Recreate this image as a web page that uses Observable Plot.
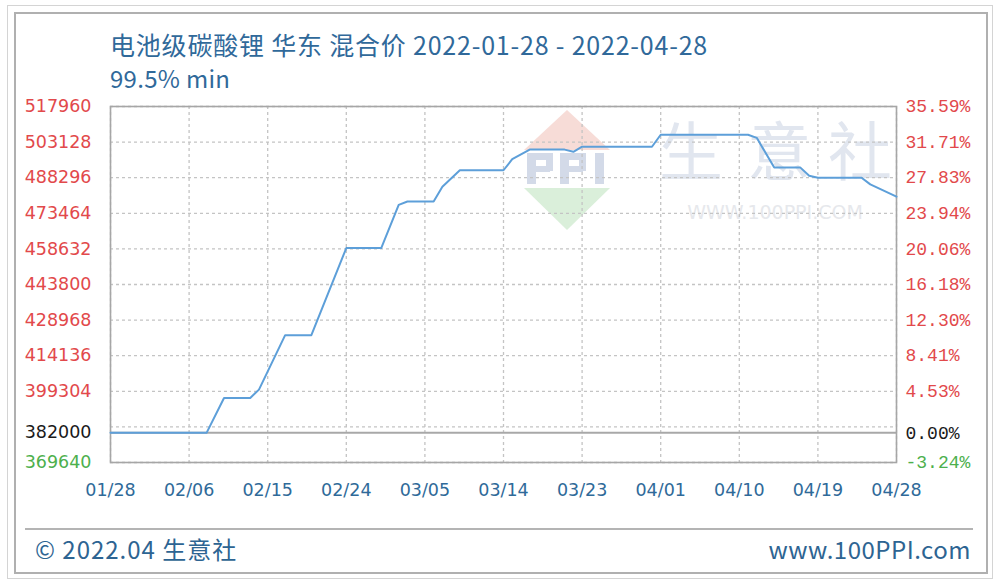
<!DOCTYPE html>
<html>
<head>
<meta charset="utf-8">
<script src="https://cdn.jsdelivr.net/npm/d3@7"></script>
<script src="https://cdn.jsdelivr.net/npm/@observablehq/plot@0.6"></script>
<style>
  html, body { margin: 0; padding: 0; background: #fff; }
  #page { position: relative; width: 1002px; height: 585px; overflow: hidden; background: #fff; font-family: "Noto Sans CJK SC", "DejaVu Sans", sans-serif; }
  .abs { position: absolute; }
  #outer { left: 7px; top: 5px; width: 986px; height: 574px; border: 1px solid #d4d4d4; box-sizing: border-box; }
  #inner { left: 14px; top: 12px; width: 974px; height: 562px; border: 2px solid #b0b0b0; box-sizing: border-box; }
  #sep { left: 25px; top: 528px; width: 948px; height: 0; border-top: 2px solid #b4b4b4; }
  #title { left: 110px; top: 27px; font-size: 25px; letter-spacing: 0.8px; color: #30699a; white-space: nowrap; line-height: 34px; }
  #subtitle { left: 110px; top: 61px; font-size: 24px; letter-spacing: 0.3px; color: #30699a; white-space: nowrap; line-height: 34px; }
  #foot-l { left: 35px; top: 533px; font-size: 24px; letter-spacing: 1px; color: #2d6492; white-space: nowrap; line-height: 32px; }
  #foot-r { right: 31px; top: 533px; font-size: 24px; letter-spacing: 0.5px; color: #2d6492; white-space: nowrap; line-height: 32px; }
  #wm { left: 0; top: 0; }
  #chart { left: 0; top: 90px; }
</style>
</head>
<body>
<div id="page">
  <div id="outer" class="abs"></div>
  <div id="inner" class="abs"></div>
  <svg id="wm" class="abs" width="1002" height="585">
    <polygon points="567,110 524,150 610,150" fill="#f7dcd7"/>
    <g fill="#d3dae8">
      <rect x="527" y="153" width="9" height="31"/>
      <rect x="536" y="153" width="14" height="7"/>
      <rect x="546" y="153" width="7" height="18"/>
      <rect x="536" y="166" width="14" height="6"/>
      <rect x="560" y="153" width="9" height="31"/>
      <rect x="569" y="153" width="14" height="7"/>
      <rect x="579" y="153" width="7" height="18"/>
      <rect x="569" y="166" width="14" height="6"/>
      <rect x="595" y="153" width="9" height="31"/>
    </g>
    <polygon points="524,188 610,188 567,230" fill="#daefda"/>
    <g font-family="Noto Sans CJK SC" font-size="64" fill="#e1e6ef" text-anchor="middle">
      <text x="691" y="175">生</text>
      <text x="779" y="175">意</text>
      <text x="860" y="175">社</text>
    </g>
    <text x="775" y="219" text-anchor="middle" font-family="DejaVu Sans" font-size="19" fill="#e6e8ec">WWW.100PPI.COM</text>
  </svg>
  <div id="chart" class="abs"></div>
  <div id="title" class="abs">电池级碳酸锂 华东 混合价 2022-01-28 - 2022-04-28</div>
  <div id="subtitle" class="abs">99.5% min</div>
  <div id="sep" class="abs"></div>
  <div id="foot-l" class="abs">© 2022.04 生意社</div>
  <div id="foot-r" class="abs">www.100PPI.com</div>
</div>
<script>
// ---- data ----
const dates = ["2022-01-28","2022-02-08","2022-02-10","2022-02-13","2022-02-14","2022-02-17","2022-02-20","2022-02-24","2022-02-28","2022-03-02","2022-03-03","2022-03-06","2022-03-07","2022-03-09","2022-03-14","2022-03-15","2022-03-17","2022-03-21","2022-03-22","2022-03-23","2022-03-31","2022-04-01","2022-04-11","2022-04-12","2022-04-14","2022-04-17","2022-04-18","2022-04-19","2022-04-24","2022-04-25","2022-04-28"];
const prices = [382000,382000,396500,396500,400000,422700,422700,459000,459000,477000,478400,478400,484500,491400,491400,496000,500000,500000,499100,501200,501200,506200,506200,504900,492500,492500,489100,488300,488300,485500,480400];

const xTickDates = ["2022-01-28","2022-02-06","2022-02-15","2022-02-24","2022-03-05","2022-03-14","2022-03-23","2022-04-01","2022-04-10","2022-04-19","2022-04-28"];
const xTickLabels = ["01/28","02/06","02/15","02/24","03/05","03/14","03/23","04/01","04/10","04/19","04/28"];

const yTickValues = [517960,503128,488296,473464,458632,443800,428968,414136,399304,382000,369640];
const yTickLabels = ["517960","503128","488296","473464","458632","443800","428968","414136","399304","382000","369640"];
const pctLabels = ["35.59%","31.71%","27.83%","23.94%","20.06%","16.18%","12.30%","8.41%","4.53%","0.00%","-3.24%"];
const gridValues = [517960,503128,488296,473464,458632,443800,428968,414136,399304,384472,369640];
const baseValue = 382000;

// ---- build table ----
const series = dates.map((d, i) => ({date: new Date(d), price: prices[i]}));
const xTicks = xTickDates.map((d, i) => ({date: new Date(d), label: xTickLabels[i]}));
const yTicks = yTickValues.map((v, i) => ({v, label: yTickLabels[i], pct: pctLabels[i]}));
const tickColor = d => d.v === baseValue ? "#1a1a1a" : (d.v < baseValue ? "#4db04d" : "#e2494b");

const chart = Plot.plot({
  width: 1002,
  height: 420,
  marginLeft: 110,
  marginRight: 106,
  marginTop: 16,
  marginBottom: 48,
  style: {background: "transparent", overflow: "visible"},
  x: {type: "utc", domain: [new Date("2022-01-28"), new Date("2022-04-28")], axis: null},
  y: {domain: [369640, 517960], axis: null},
  color: {type: "identity"},
  marks: [
    Plot.ruleY(gridValues, {stroke: "#c4c4c4", strokeWidth: 1.3, strokeDasharray: "3,3"}),
    Plot.ruleX(xTicks, {x: "date", stroke: "#c4c4c4", strokeWidth: 1.3, strokeDasharray: "3,3"}),
    Plot.ruleY([baseValue], {stroke: "#a8a8a8", strokeWidth: 2}),
    Plot.frame({stroke: "#a6a6a6", strokeWidth: 1.6}),
    Plot.line(series, {x: "date", y: "price", stroke: "#5d9fd9", strokeWidth: 2}),
    Plot.text(yTicks, {y: "v", text: "label", frameAnchor: "left", textAnchor: "end", dx: -19, fill: tickColor, fontSize: 17.5, fontFamily: "DejaVu Sans"}),
    Plot.text(yTicks, {y: "v", text: "pct", frameAnchor: "right", textAnchor: "start", dx: 9, fill: tickColor, fontSize: 18, fontFamily: "Liberation Mono"}),
    Plot.text(xTicks, {x: "date", text: "label", frameAnchor: "bottom", dy: 33, fill: "#2f6a99", fontSize: 17.5, fontFamily: "DejaVu Sans"})
  ]
});
document.getElementById("chart").appendChild(chart);
</script>
</body>
</html>
